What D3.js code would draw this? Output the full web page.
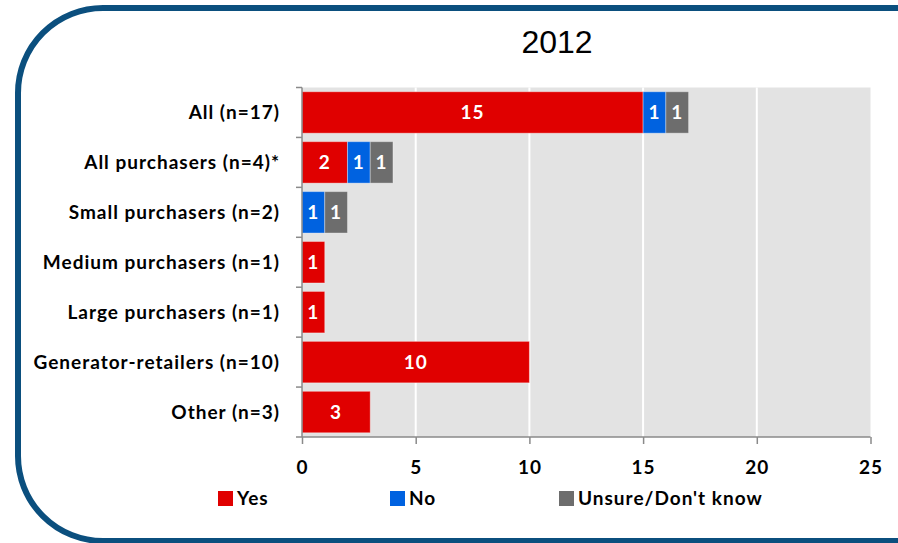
<!DOCTYPE html>
<html>
<head>
<meta charset="utf-8">
<script src="https://cdn.jsdelivr.net/npm/d3@7"></script>
<style>
  html, body { margin: 0; padding: 0; background: #fff; }
  svg { display: block; }
</style>
</head>
<body>
<svg id="chart" width="898" height="543"></svg>
<script>
// Survey responses by respondent group, 2012
const title = "2012";
const categories = [
  "All (n=17)",
  "All purchasers (n=4)*",
  "Small purchasers (n=2)",
  "Medium purchasers (n=1)",
  "Large purchasers (n=1)",
  "Generator-retailers (n=10)",
  "Other (n=3)"
];
const seriesNames = ["Yes", "No", "Unsure/Don't know"];
const yesValues    = [15, 2, 0, 1, 1, 10, 3];
const noValues     = [1, 1, 1, 0, 0, 0, 0];
const unsureValues = [1, 1, 1, 0, 0, 0, 0];
const xTicks = [0, 5, 10, 15, 20, 25];

const colors = ["#e00000", "#0062e0", "#6d6d6d"];
const font = "Lato, 'Open Sans', sans-serif";
const labelSize = 19;
const labelSpacing = 1;

const svg = d3.select("#chart");

// Rounded frame (right side runs off the page)
svg.append("rect")
  .attr("x", 18).attr("y", 8)
  .attr("width", 1000).attr("height", 533)
  .attr("rx", 85).attr("ry", 85)
  .attr("fill", "none")
  .attr("stroke", "#0b4f7e")
  .attr("stroke-width", 6);

// Title
svg.append("text")
  .attr("x", 557).attr("y", 53)
  .attr("text-anchor", "middle")
  .attr("font-family", "Arial, 'Liberation Sans', sans-serif")
  .attr("font-size", 32)
  .attr("fill", "#000")
  .text(title);

const plot = { left: 302, right: 870.5, top: 87.5, bottom: 437 };

const x = d3.scaleLinear().domain([0, 25]).range([plot.left, plot.right]);
const y = d3.scaleBand().domain(categories)
  .range([plot.top, plot.bottom])
  .paddingInner(0.17).paddingOuter(0.085);

// Plot background
svg.append("rect")
  .attr("x", plot.left).attr("y", plot.top)
  .attr("width", plot.right - plot.left).attr("height", plot.bottom - plot.top)
  .attr("fill", "#e3e3e3");

// Vertical gridlines
svg.append("g").selectAll("line")
  .data(xTicks.filter(t => t > 0 && t < 25))
  .join("line")
  .attr("x1", d => x(d)).attr("x2", d => x(d))
  .attr("y1", plot.top).attr("y2", plot.bottom)
  .attr("stroke", "#ffffff").attr("stroke-width", 2);

// Stacked data
const rows = categories.map((c, i) => ({
  category: c, Yes: yesValues[i], No: noValues[i], "Unsure/Don't know": unsureValues[i]
}));
const stacked = d3.stack().keys(seriesNames)(rows);

const layers = svg.append("g").selectAll("g")
  .data(stacked)
  .join("g")
  .attr("fill", (d, i) => colors[i]);

layers.selectAll("rect")
  .data(d => d.filter(s => s[1] - s[0] > 0))
  .join("rect")
  .attr("x", d => x(d[0]))
  .attr("y", d => y(d.data.category))
  .attr("width", d => x(d[1]) - x(d[0]))
  .attr("height", y.bandwidth())
  .attr("stroke", "rgba(255,255,255,0.35)")
  .attr("stroke-width", 1);

layers.selectAll("text")
  .data(d => d.filter(s => s[1] - s[0] > 0))
  .join("text")
  .attr("x", d => (x(d[0]) + x(d[1])) / 2)
  .attr("y", d => y(d.data.category) + y.bandwidth() / 2)
  .attr("dy", "0.36em")
  .attr("text-anchor", "middle")
  .attr("font-family", font)
  .attr("font-weight", "bold")
  .attr("font-size", labelSize)
  .attr("letter-spacing", labelSpacing)
  .attr("fill", "#fff")
  .text(d => d[1] - d[0]);

// Y axis
const yAxis = svg.append("g");
yAxis.append("line")
  .attr("x1", plot.left).attr("x2", plot.left)
  .attr("y1", plot.top).attr("y2", plot.bottom)
  .attr("stroke", "#8a8a8a").attr("stroke-width", 1.5);
const yBounds = d3.range(categories.length + 1).map(i => plot.top + i * y.step());
yAxis.selectAll("line.tick")
  .data(yBounds)
  .join("line")
  .attr("class", "tick")
  .attr("x1", plot.left - 6).attr("x2", plot.left)
  .attr("y1", d => d).attr("y2", d => d)
  .attr("stroke", "#8a8a8a").attr("stroke-width", 1.5);
yAxis.selectAll("text")
  .data(categories)
  .join("text")
  .attr("x", 280)
  .attr("y", d => y(d) + y.bandwidth() / 2)
  .attr("dy", "0.36em")
  .attr("text-anchor", "end")
  .attr("font-family", font)
  .attr("font-weight", "bold")
  .attr("font-size", labelSize)
  .attr("letter-spacing", labelSpacing)
  .attr("fill", "#000")
  .text(d => d);

// X axis
const xAxis = svg.append("g")
  .attr("transform", `translate(0,${plot.bottom})`)
  .call(d3.axisBottom(x).tickValues(xTicks).tickSize(7).tickPadding(17).tickFormat(d3.format("d")));
xAxis.select(".domain").attr("stroke", "#8a8a8a").attr("stroke-width", 1.5)
  .attr("d", `M${plot.left},0H${plot.right}`);
xAxis.selectAll(".tick line").attr("stroke", "#8a8a8a").attr("stroke-width", 1.5);
xAxis.selectAll(".tick text")
  .attr("font-family", font)
  .attr("font-weight", "bold")
  .attr("font-size", labelSize)
  .attr("letter-spacing", labelSpacing)
  .attr("fill", "#000");

// Legend
const legendX = [218, 390, 559];
const legend = svg.append("g").selectAll("g")
  .data(seriesNames)
  .join("g")
  .attr("transform", (d, i) => `translate(${legendX[i]},491)`);
legend.append("rect")
  .attr("width", 15).attr("height", 15)
  .attr("fill", (d, i) => colors[i]);
legend.append("text")
  .attr("x", 19).attr("y", 7.5)
  .attr("dy", "0.36em")
  .attr("font-family", font)
  .attr("font-weight", "bold")
  .attr("font-size", labelSize)
  .attr("letter-spacing", labelSpacing)
  .attr("fill", "#000")
  .text(d => d);
</script>
</body>
</html>
